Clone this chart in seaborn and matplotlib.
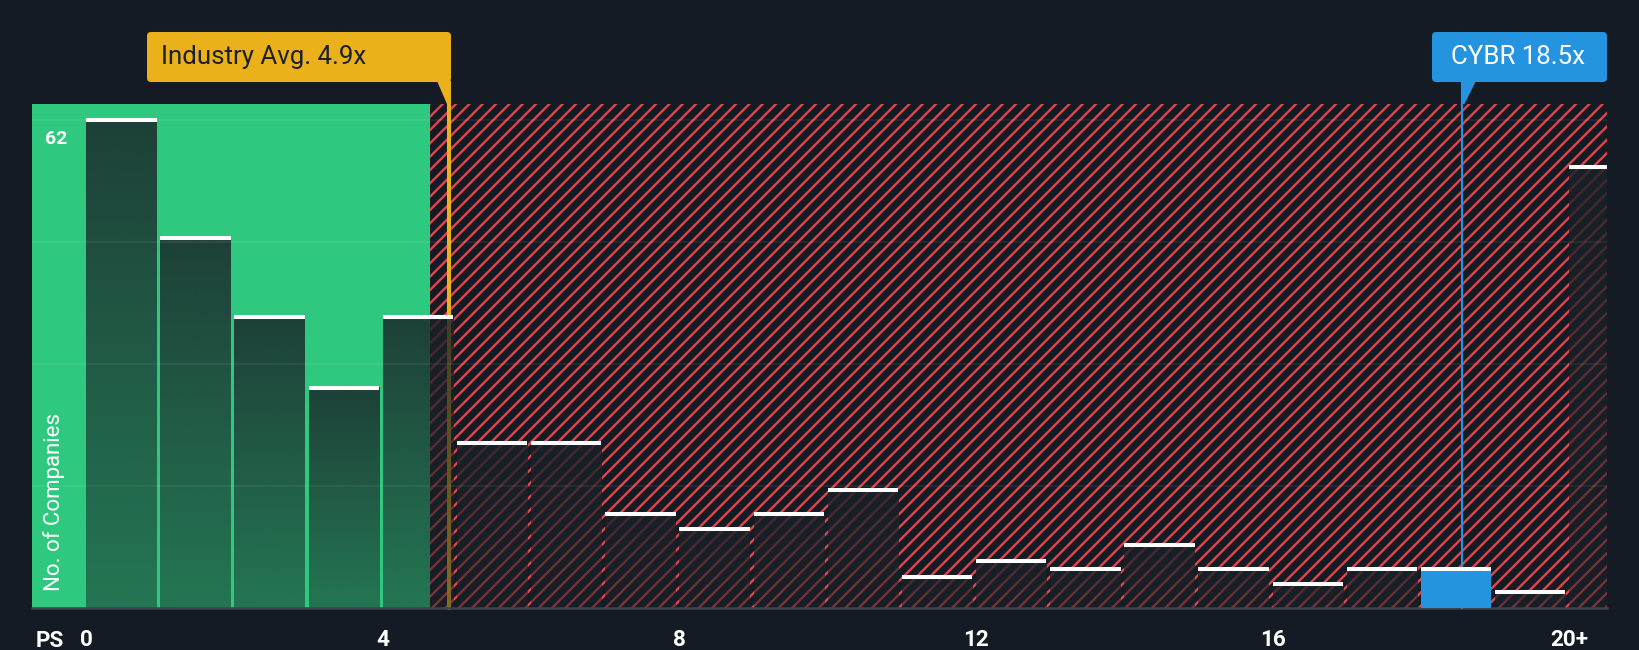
import numpy as np
import pandas as pd
import matplotlib.pyplot as plt
import matplotlib.patches as mpatches
from matplotlib.transforms import IdentityTransform
import seaborn as sns

# ---- data ----
bin_starts = list(range(21))                     # PS bins 0-1, 1-2, ... 20+
companies = [62, 47, 37, 28, 37, 21, 21, 12, 10, 12, 15,
             4, 6, 5, 8, 5, 3, 5, 5, 2, 56]
tick_values = [0, 4, 8, 12, 16, 20]
tick_labels = ['0', '4', '8', '12', '16', '20+']
grid_values = [15.5, 31, 46.5, 62]

industry_avg = 4.9
industry_label = 'Industry Avg. 4.9x'
fair_edge = 4.64                                 # end of green band
company_ps = 18.56
company_label = 'CYBR 18.5x'

# ---- style ----
BG = '#151b24'
GREEN = '#2ec97e'
RED = '#e0464a'
GOLD = '#ebb11a'
BLUE = '#2494e0'
DARK_TXT = '#1b212b'
AXIS = '#3d434c'

sns.set_style('dark')
plt.rcParams['font.family'] = ['Roboto', 'DejaVu Sans']
plt.rcParams['hatch.linewidth'] = 0.85

W, H = 1640, 650
fig = plt.figure(figsize=(W / 200, H / 200), dpi=200, facecolor=BG)
ax = fig.add_axes([32 / W, 1 - 608 / H, (1607 - 32) / W, (608 - 104) / H])
ax.set_facecolor(BG)

df = pd.DataFrame({'ps': np.array(bin_starts) + 0.475, 'count': companies})
sns.barplot(data=df, x='ps', y='count', native_scale=True, width=0.95,
            color=BG, errorbar=None, ax=ax, zorder=2,
            linewidth=0, edgecolor='none')
bars = list(ax.patches)

# background bands
ax.axvspan(-1, fair_edge, facecolor=GREEN, lw=0, zorder=1)
ax.axvspan(fair_edge, 22, facecolor=BG, edgecolor=RED, hatch='/////', lw=0, zorder=1)

# gradient overlay on each bar, white cap on top
grad = np.zeros((64, 1, 4))
grad[..., :3] = np.array([26, 34, 40]) / 255
grad[:, 0, 3] = np.linspace(0.5, 0.82, 64)
for b in bars:
    x0, w, h = b.get_x(), b.get_width(), b.get_height()
    b.set_facecolor('none')
    if x0 <= company_ps < x0 + w + 0.05:
        b.set_facecolor(BLUE)
        b.set_zorder(3)
    else:
        ax.imshow(grad, extent=(x0, x0 + w, 0, h), origin='lower',
                  aspect='auto', interpolation='bilinear', zorder=2)
    ax.hlines(h, x0, x0 + w, color='white', lw=1.45, zorder=4, capstyle='butt')

# marker lines
ext = 1 + 22 / 504
ax.axvline(industry_avg, ymin=0, ymax=ext, color=GOLD, lw=1.45, zorder=1.5, clip_on=False)
ax.axvline(company_ps, ymin=0, ymax=ext, color=BLUE, lw=0.75, zorder=2.6, clip_on=False)

ax.set_xlim(-0.73, 20.51)
ax.set_ylim(0, 64)

# grid and axis
ax.set_yticks(grid_values)
ax.set_yticklabels([])
ax.tick_params(axis='y', length=0)
ax.grid(axis='y', color='white', alpha=0.08, lw=0.55)
ax.grid(axis='x', visible=False)
ax.set_axisbelow(False)
ax.set_xticks(bin_starts)
ax.set_xticklabels([tick_labels[tick_values.index(v)] if v in tick_values else ''
                    for v in bin_starts])
ax.tick_params(axis='x', colors=AXIS, length=3.2, width=0.7, pad=4.4,
               labelcolor='white', labelsize=8.1)
for lab in ax.get_xticklabels():
    lab.set_fontweight('bold')
for s in ['left', 'right', 'top']:
    ax.spines[s].set_visible(False)
ax.spines['bottom'].set_color(AXIS)
ax.spines['bottom'].set_linewidth(0.9)
ax.set_xlabel('')
ax.set_ylabel('')

ax.annotate(str(grid_values[-1]).replace('.0', ''), xy=(0, grid_values[-1]),
            xycoords=('axes fraction', 'data'), xytext=(4.7, -3.6),
            textcoords='offset points', ha='left', va='top',
            color='white', fontsize=7, fontweight='bold')

# labels outside the plot (pixel coordinates)
ident = IdentityTransform()
fig.text(54, H - 591, 'No. of Companies', rotation=90, ha='center', va='bottom',
         color='white', fontsize=8, transform=ident)
fig.text(36, H - 630, 'PS', ha='left', va='top', color='white',
         fontsize=8.1, fontweight='bold', transform=ident)

# callout boxes
def callout(x0, x1, color, text, tcolor, tx, tri):
    fig.patches.append(mpatches.FancyBboxPatch(
        (x0, H - 82), x1 - x0, 50, boxstyle='round,pad=0,rounding_size=4',
        facecolor=color, edgecolor='none', transform=ident))
    fig.patches.append(mpatches.Polygon([(x, H - y) for x, y in tri], closed=True,
                                        facecolor=color, edgecolor='none',
                                        transform=ident))
    fig.text(tx, H - 57, text, ha='left', va='center', color=tcolor,
             fontsize=9.3, transform=ident)

callout(147, 451, GOLD, industry_label, DARK_TXT, 161,
        [(437, 81), (451, 81), (451, 104), (447, 104)])
callout(1432, 1607, BLUE, company_label, 'white', 1451,
        [(1462, 81), (1476, 81), (1464.5, 104), (1462, 104)])

fig.savefig('out.png', dpi=200, facecolor=BG)
